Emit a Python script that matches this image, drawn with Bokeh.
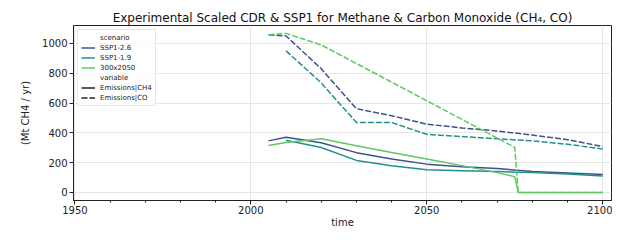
from bokeh.plotting import figure
from bokeh.models import Legend, LegendItem, Range1d, FixedTicker
from bokeh.embed import file_html
from bokeh.resources import INLINE

# ---- data ----
years_ssp126 = [2005, 2010, 2020, 2030, 2040, 2050, 2060, 2070, 2080, 2090, 2100]
ssp126_ch4 = [346, 371, 333, 267, 225, 190, 173, 160, 140, 131, 121]
ssp126_co = [1058, 1050, 830, 562, 515, 458, 433, 412, 385, 354, 308]

years_ssp119 = [2010, 2020, 2030, 2040, 2050, 2060, 2070, 2080, 2090, 2100]
ssp119_ch4 = [350, 302, 215, 179, 152, 146, 140, 133, 123, 110]
ssp119_co = [950, 735, 469, 469, 390, 375, 360, 346, 323, 292]

years_300 = [2005, 2010, 2020, 2030, 2040, 2050, 2060, 2070, 2075, 2076, 2080, 2090, 2100]
s300_ch4 = [315, 335, 360, 314, 268, 225, 180, 133, 106, 0, 0, 0, 0]
s300_co = [1058, 1067, 990, 865, 740, 615, 490, 365, 302, 0, 0, 0, 0]

scenarios = ["SSP1-2.6", "SSP1-1.9", "300x2050"]
colors = ["#3b528b", "#21918c", "#5ec962"]
variables = ["Emissions|CH4", "Emissions|CO"]
x_ticks = [1950, 2000, 2050, 2100]
y_ticks = [0, 200, 400, 600, 800, 1000]

FONT = "DejaVu Sans"
DASH = "6 2"
NAN = float("nan")

p = figure(width=612, height=230, output_backend="svg", toolbar_location=None,
           x_range=Range1d(1949.6, 2102.5), y_range=Range1d(-54, 1120),
           min_border_left=73, min_border_right=1, min_border_top=25, min_border_bottom=5)

p.title.text = "Experimental Scaled CDR & SSP1 for Methane & Carbon Monoxide (CH\u2084, CO)"
p.title.text_font = FONT
p.title.text_font_size = "12px"
p.title.text_font_style = "normal"
p.title.align = "center"
p.title.standoff = 2
p.title.offset = 0
p.title.text_color = "#111111"

p.outline_line_color = "#222222"
p.outline_line_width = 1
p.background_fill_color = "white"

for ax in (p.xaxis[0], p.yaxis[0]):
    ax.axis_line_color = "#222222"
    ax.major_tick_line_color = "#222222"
    ax.minor_tick_line_color = "#222222"
    ax.major_tick_out = 4
    ax.major_tick_in = 0
    ax.minor_tick_out = 2
    ax.minor_tick_in = 0
    ax.major_label_text_font = FONT
    ax.major_label_text_font_size = "10px"
    ax.major_label_text_color = "#222222"
    ax.axis_label_text_font = FONT
    ax.axis_label_text_font_size = "10px"
    ax.axis_label_text_font_style = "normal"
    ax.axis_label_text_color = "#222222"
    ax.major_label_standoff = 1
    ax.axis_label_standoff = 0

p.yaxis.major_label_standoff = 2
p.yaxis.axis_label_standoff = 8
p.xaxis.ticker = FixedTicker(ticks=x_ticks, minor_ticks=list(range(1950, 2101, 10)))
p.yaxis.ticker = FixedTicker(ticks=y_ticks)
p.yaxis.minor_tick_line_color = None
p.xaxis.axis_label = "time"
p.yaxis.axis_label = "(Mt CH4 / yr)"

p.xgrid.grid_line_color = "#e6e6e6"
p.ygrid.grid_line_color = "#e6e6e6"
p.xgrid.grid_line_width = 1
p.ygrid.grid_line_width = 1

series = [
    (years_ssp126, ssp126_ch4, ssp126_co),
    (years_ssp119, ssp119_ch4, ssp119_co),
    (years_300, s300_ch4, s300_co),
]

scen_renderers = []
for (yrs, ch4, co), col in zip(series, colors):
    r1 = p.line(yrs, ch4, line_color=col, line_width=1.5)
    p.line(yrs, co, line_color=col, line_width=1.5, line_dash=DASH)
    scen_renderers.append(r1)

# proxy renderers (no visible data) for legend headers and style entries
hdr1 = p.line([NAN], [NAN], line_alpha=0)
hdr2 = p.line([NAN], [NAN], line_alpha=0)
solid_r = p.line([NAN], [NAN], line_color="#222222", line_width=1.5)
dash_r = p.line([NAN], [NAN], line_color="#222222", line_width=1.5, line_dash=DASH)

items = [LegendItem(label="scenario", renderers=[hdr1])]
for name, r in zip(scenarios, scen_renderers):
    items.append(LegendItem(label=name, renderers=[r]))
items.append(LegendItem(label="variable", renderers=[hdr2]))
items.append(LegendItem(label=variables[0], renderers=[solid_r]))
items.append(LegendItem(label=variables[1], renderers=[dash_r]))

legend = Legend(items=items, location="top_left")
legend.label_text_font = FONT
legend.label_text_font_size = "7px"
legend.label_text_color = "#222222"
legend.label_height = 9
legend.glyph_height = 9
legend.glyph_width = 14
legend.label_standoff = 5
legend.spacing = 1
legend.padding = 3
legend.margin = 4
legend.border_line_color = "#d0d0d0"
legend.border_line_width = 1
legend.background_fill_alpha = 0.8
p.add_layout(legend)

open("out.html", "w").write(file_html(p, INLINE))
